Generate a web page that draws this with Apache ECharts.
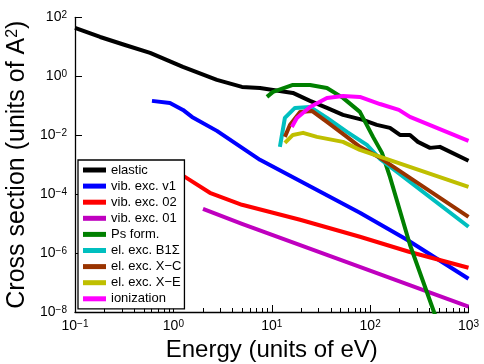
<!DOCTYPE html>
<html><head><meta charset="utf-8">
<script src="https://cdn.jsdelivr.net/npm/echarts@6/dist/echarts.min.js"></script>
<style>html,body{margin:0;padding:0;background:#fff}#c{width:484px;height:364px}</style>
</head><body><div id="c"></div>
<script>
const FONT = 'Liberation Sans, Arial, Helvetica, sans-serif';
const seriesNames = ['elastic','vib. exc. v1','vib. exc. 02','vib. exc. 01','Ps form.','el. exc. B1Σ','el. exc. X−C','el. exc. X−E','ionization'];
const seriesColors = ['#000000','#0000ff','#ff0000','#bf00bf','#008000','#00bfbf','#993300','#bfbf00','#ff00ff'];

const elasticE = [0.1, 0.18, 0.322, 0.58, 1.25, 2.77, 4.98, 7.59, 16.4, 24.5, 36.4, 53.0, 84.5, 117, 159, 201, 254, 306, 406, 512, 1000];
const elasticS = [43.4, 21.5, 11.5, 6.17, 2.07, 0.75, 0.434, 0.401, 0.272, 0.146, 0.0841, 0.0488, 0.0330, 0.0223, 0.0177, 0.0102, 0.0102, 0.00593, 0.00371, 0.00401, 0.00135];
const v1E = [0.606, 0.923, 1.252, 1.545, 2.77, 7.59, 78.7, 237, 1000];
const v1S = [0.146, 0.124, 0.0721, 0.0417, 0.0140, 0.00146, 2.32e-5, 2.83e-6, 1.35e-7];
const v02E = [1.0, 1.31, 2.35, 4.98, 19.4, 78.7, 248, 1000];
const v02S = [6.7e-4, 3.86e-4, 1.11e-4, 4.34e-5, 1.35e-5, 3.57e-6, 1.11e-6, 3.18e-7];
const v01E = [2.0, 4.98, 70.2, 1000];
const v01S = [3.18e-5, 9.84e-6, 3.92e-7, 1.51e-8];
const psE = [8.94, 10.3, 16.4, 24.5, 36.4, 53.0, 78.7, 107, 132, 159, 254, 445, 478];
const psS = [0.199, 0.294, 0.507, 0.507, 0.401, 0.184, 0.0617, 0.00875, 0.00251, 3.86e-4, 1.91e-6, 1.02e-8, 5.5e-9];
const b1E = [12.1, 13.6, 17.2, 24.5, 36.4, 58.1, 92.7, 126, 1000];
const b1S = [0.00401, 0.0385, 0.0841, 0.0910, 0.0385, 0.0129, 0.00469, 0.00157, 7.80e-6];
const xcE = [13.6, 15.3, 19.4, 25.6, 36.4, 58.1, 78.7, 126, 1000];
const xcS = [0.00875, 0.0223, 0.0617, 0.0667, 0.0282, 0.00875, 0.00401, 0.00170, 1.70e-5];
const xeE = [13.6, 16.4, 20.8, 28.8, 53.0, 78.7, 1000];
const xeS = [0.00548, 0.0102, 0.0120, 0.00875, 0.00593, 0.00318, 1.77e-4];
const ionE = [16.0, 18.0, 24.5, 36.4, 53.0, 78.7, 126, 196, 254, 1000];
const ionS = [0.0191, 0.0385, 0.0910, 0.184, 0.215, 0.199, 0.114, 0.0721, 0.0417, 0.00641];

const minorTicksX = [0.2,0.3,0.4,0.5,0.6,0.7,0.8,0.9, 2,3,4,5,6,7,8,9, 20,30,40,50,60,70,80,90, 200,300,400,500,600,700,800,900];

const allE = [elasticE, v1E, v02E, v01E, psE, b1E, xcE, xeE, ionE];
const allS = [elasticS, v1S, v02S, v01S, psS, b1S, xcS, xeS, ionS];

function powLabel(v) {
  const e = Math.round(Math.log10(v));
  return '{b|10}{s|' + (e < 0 ? '−' + (-e) : String(e)) + '}';
}
const richLab = {
  b: {fontSize: 14, lineHeight: 14, padding: [4, 0, 0, 0], verticalAlign: 'bottom', fontFamily: FONT, color: '#000'},
  s: {fontSize: 10, lineHeight: 10, verticalAlign: 'top', fontFamily: FONT, color: '#000'}
};

const chart = echarts.init(document.getElementById('c'), null, {renderer: 'canvas'});
chart.setOption({
  animation: false,
  backgroundColor: '#fff',
  grid: {left: 75, right: 15.5, top: 17.3, bottom: 52, containLabel: false, outerBoundsMode: 'none'},
  legend: {
    orient: 'vertical', left: 78, top: 160,
    padding: [2, 3, 2, 5], itemGap: 0.1, itemWidth: 23, itemHeight: 5, icon: 'rect',
    backgroundColor: '#fff', borderColor: '#000', borderWidth: 1.3, borderRadius: 0,
    textStyle: {fontFamily: FONT, fontSize: 13, color: '#000', lineHeight: 16},
    selectedMode: false,
    data: seriesNames
  },
  xAxis: [{
    type: 'log', logBase: 10, min: 0.1, max: 1000, interval: 1,
    name: 'Energy (units of eV)', nameLocation: 'middle', nameGap: 25,
    nameTextStyle: {fontFamily: FONT, fontSize: 24, color: '#000'},
    axisLine: {show: true, onZero: false, lineStyle: {color: '#000', width: 1.3}},
    axisTick: {show: true, inside: true, length: 7, lineStyle: {color: '#000', width: 1}},
    axisLabel: {margin: 7, formatter: powLabel, rich: richLab},
    splitLine: {show: false}, minorTick: {show: false}
  }, {
    type: 'value', min: -1, max: 3, position: 'bottom', gridIndex: 0,
    axisLine: {show: false, onZero: false},
    axisTick: {show: true, inside: true, length: 4, customValues: minorTicksX.map(v => Math.log10(v)), lineStyle: {color: '#000', width: 1}},
    axisLabel: {show: false},
    splitLine: {show: false}
  }],
  yAxis: {
    type: 'log', logBase: 10, min: 1e-8, max: 100, interval: 2,
    name: '{t|Cross section (units of A}{s|2}{t|)}', nameLocation: 'middle', nameGap: 38,
    nameTextStyle: {rich: {
      t: {fontFamily: FONT, fontSize: 25, lineHeight: 25, color: '#000', verticalAlign: 'bottom'},
      s: {fontFamily: FONT, fontSize: 16, lineHeight: 16, color: '#000', verticalAlign: 'top'}
    }},
    axisLine: {show: true, onZero: false, lineStyle: {color: '#000', width: 1.3}},
    axisTick: {show: true, inside: true, length: 7, lineStyle: {color: '#000', width: 1}},
    axisLabel: {margin: 8, formatter: powLabel, rich: richLab},
    splitLine: {show: false}
  },
  series: seriesNames.map((n, i) => ({
    name: n, type: 'line', xAxisIndex: 0, yAxisIndex: 0,
    data: allE[i].map((e, j) => [e, allS[i][j]]),
    showSymbol: false, symbol: 'none', clip: true,
    color: seriesColors[i],
    itemStyle: {color: seriesColors[i]},
    lineStyle: {color: seriesColors[i], width: 4, join: 'round'},
    emphasis: {disabled: true}
  }))
});
</script></body></html>
